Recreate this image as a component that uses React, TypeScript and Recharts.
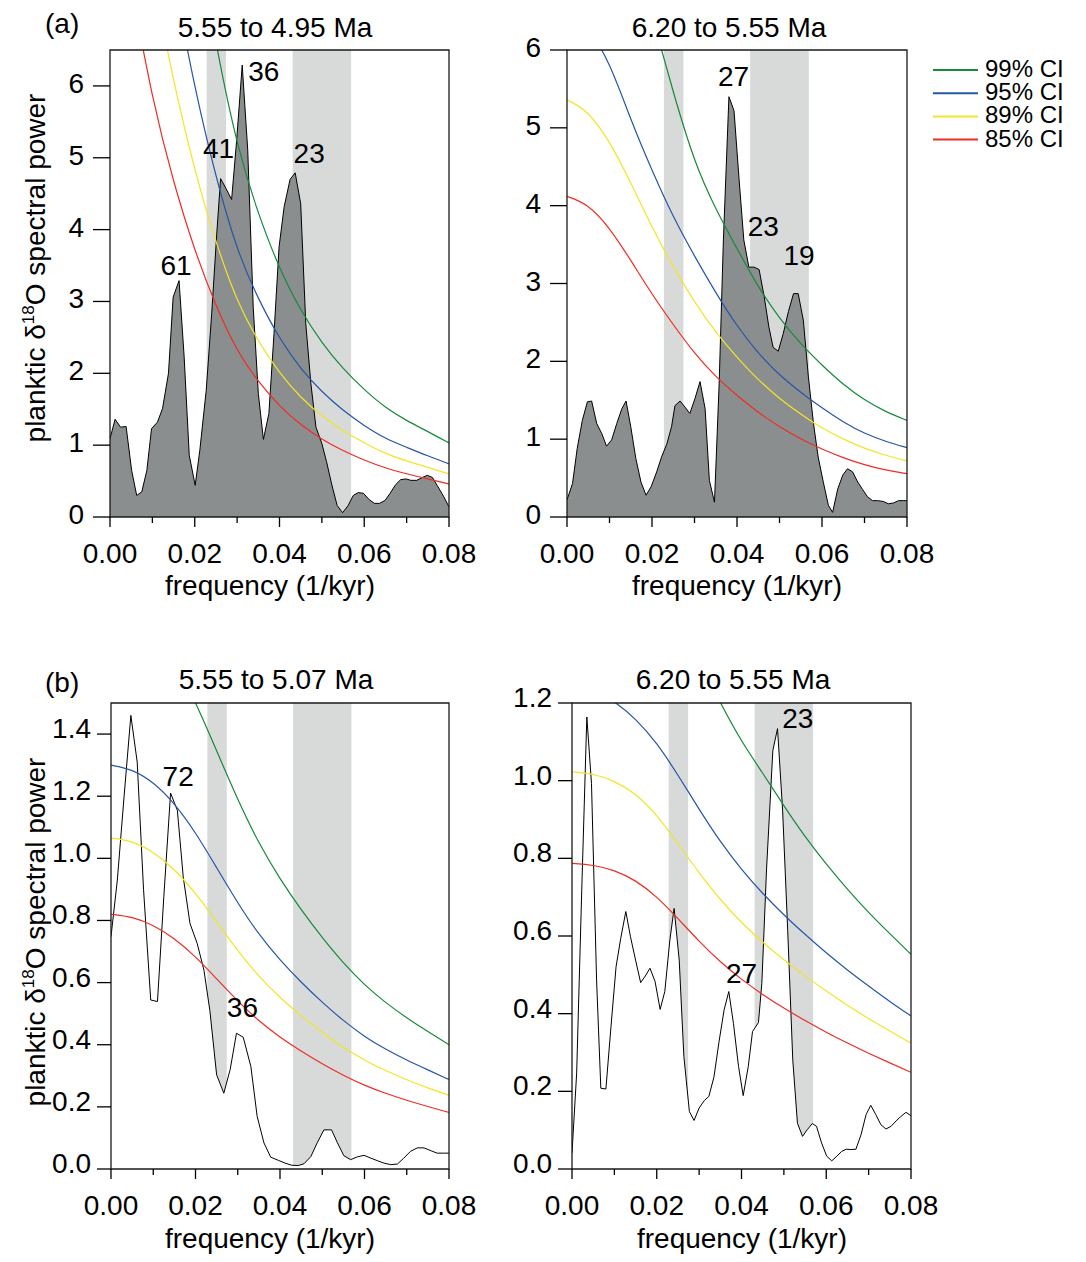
import React from 'react';
import { ComposedChart, Area, Line, XAxis, YAxis, ReferenceArea, ReferenceDot } from 'recharts';

const FONT = '"Liberation Sans", Arial, Helvetica, sans-serif';
const C99 = '#17893c';
const C95 = '#2656a8';
const C89 = '#f2e526';
const C85 = '#ee2d24';
const BAND = '#d8dada';
const SPEC_FILL = '#8b8e8e';

// frequency ticks (1/kyr)
const freqTicks = [0, 0.01, 0.02, 0.03, 0.04, 0.05, 0.06, 0.07, 0.08];
// orbital bands (obliquity, precession)
const bandObliquity = [0.0228, 0.0274];
const bandPrecession = [0.0431, 0.0569];

// grid on which the confidence curves were read
const ciFreq = [0, 0.005, 0.01, 0.015, 0.02, 0.025, 0.03, 0.035, 0.04, 0.045, 0.05, 0.055, 0.06, 0.065, 0.07, 0.075, 0.08];

// ---------- (a) 5.55 to 4.95 Ma ----------
const a1Freq = [0, 0.0012, 0.0025, 0.0038, 0.0051, 0.0063, 0.0075, 0.0087, 0.0098, 0.0112, 0.0124, 0.0138, 0.0149, 0.0163, 0.0175, 0.0187, 0.0201, 0.0212, 0.0227, 0.024, 0.0252, 0.0261, 0.0274, 0.0287, 0.0299, 0.0312, 0.0325, 0.0338, 0.035, 0.0362, 0.0375, 0.0387, 0.0399, 0.0411, 0.0425, 0.0437, 0.045, 0.0462, 0.0474, 0.0486, 0.05, 0.0511, 0.0523, 0.0536, 0.0549, 0.0562, 0.0574, 0.0586, 0.0598, 0.0612, 0.0624, 0.0636, 0.0649, 0.0661, 0.0674, 0.0686, 0.0699, 0.071, 0.0724, 0.0737, 0.0749, 0.0761, 0.0772, 0.0787, 0.08];
const a1Power = [1.09, 1.36, 1.25, 1.26, 0.65, 0.3, 0.35, 0.65, 1.23, 1.32, 1.51, 2.0, 3.06, 3.29, 2.23, 0.86, 0.44, 0.93, 1.76, 2.83, 3.95, 4.71, 4.57, 4.42, 5.25, 6.29, 5.11, 2.92, 1.72, 1.08, 1.44, 2.55, 3.76, 4.32, 4.7, 4.79, 4.36, 2.69, 1.86, 1.25, 1.02, 0.77, 0.46, 0.16, 0.06, 0.16, 0.3, 0.34, 0.33, 0.24, 0.19, 0.19, 0.23, 0.33, 0.45, 0.52, 0.53, 0.51, 0.51, 0.55, 0.58, 0.55, 0.44, 0.29, 0.14];
const a1Ci85 = [8.6, 7.4, 5.8, 4.65, 3.7, 2.93, 2.3, 1.88, 1.54, 1.28, 1.08, 0.92, 0.79, 0.68, 0.6, 0.53, 0.46];
const a1Ci89 = [11.2, 9.6, 7.54, 6.05, 4.81, 3.81, 2.99, 2.44, 2.0, 1.66, 1.4, 1.2, 1.03, 0.88, 0.78, 0.69, 0.6];
const a1Ci95 = [13.8, 11.9, 9.34, 7.49, 5.96, 4.72, 3.7, 3.03, 2.48, 2.06, 1.74, 1.48, 1.27, 1.09, 0.97, 0.85, 0.74];
const a1Ci99 = [19.3, 16.6, 13.0, 10.4, 8.29, 6.56, 5.15, 4.21, 3.45, 2.87, 2.42, 2.06, 1.77, 1.52, 1.34, 1.19, 1.03];
const a1Peaks = [
  { text: '36', f: 0.0363, v: 6.2 },
  { text: '41', f: 0.0256, v: 5.14 },
  { text: '61', f: 0.0156, v: 3.51 },
  { text: '23', f: 0.047, v: 5.07 },
];

// ---------- (a) 6.20 to 5.55 Ma ----------
const a2Freq = [0, 0.0013, 0.0024, 0.0036, 0.0048, 0.0058, 0.007, 0.0082, 0.0093, 0.0105, 0.0117, 0.0129, 0.0139, 0.015, 0.0162, 0.0174, 0.0186, 0.0198, 0.0211, 0.0223, 0.0235, 0.0246, 0.0254, 0.0266, 0.0278, 0.0289, 0.0301, 0.0313, 0.0325, 0.0335, 0.0347, 0.0358, 0.0368, 0.0381, 0.0393, 0.0405, 0.0416, 0.0428, 0.044, 0.0452, 0.0464, 0.0475, 0.0485, 0.0497, 0.0509, 0.0521, 0.0533, 0.0544, 0.0556, 0.0568, 0.058, 0.0591, 0.0603, 0.0615, 0.0625, 0.0637, 0.0649, 0.066, 0.0672, 0.0684, 0.0696, 0.0707, 0.0719, 0.0731, 0.0744, 0.0756, 0.0768, 0.078, 0.0791, 0.08];
const a2Power = [0.22, 0.43, 0.88, 1.24, 1.48, 1.49, 1.2, 1.07, 0.91, 0.99, 1.2, 1.39, 1.49, 1.16, 0.75, 0.45, 0.28, 0.39, 0.58, 0.78, 0.94, 1.16, 1.43, 1.49, 1.41, 1.33, 1.52, 1.74, 1.39, 0.47, 0.19, 1.71, 3.56, 5.4, 5.22, 4.33, 3.56, 3.21, 3.21, 3.18, 2.83, 2.44, 2.18, 2.13, 2.36, 2.64, 2.87, 2.87, 2.53, 1.8, 1.2, 0.77, 0.45, 0.15, 0.06, 0.36, 0.54, 0.62, 0.58, 0.45, 0.35, 0.26, 0.21, 0.21, 0.2, 0.17, 0.18, 0.21, 0.21, 0.21];
const a2Ci85 = [4.12, 4.02, 3.72, 3.3, 2.86, 2.47, 2.1, 1.8, 1.56, 1.34, 1.16, 1.0, 0.87, 0.76, 0.67, 0.6, 0.557];
const a2Ci89 = [5.36, 5.22, 4.83, 4.3, 3.72, 3.21, 2.76, 2.37, 2.05, 1.76, 1.52, 1.32, 1.14, 1.0, 0.88, 0.79, 0.72];
const a2Ci95 = [6.45, 6.3, 5.85, 5.1, 4.45, 3.85, 3.35, 2.88, 2.45, 2.1, 1.82, 1.6, 1.4, 1.22, 1.07, 0.97, 0.89];
const a2Ci99 = [9.1, 8.9, 8.3, 7.4, 6.45, 5.45, 4.55, 3.95, 3.45, 2.95, 2.55, 2.22, 1.95, 1.7, 1.5, 1.35, 1.24];
const a2Peaks = [
  { text: '27', f: 0.0392, v: 5.66 },
  { text: '23', f: 0.0462, v: 3.74 },
  { text: '19', f: 0.0546, v: 3.36 },
];

// ---------- (b) 5.55 to 5.07 Ma ----------
const b1Freq = [0, 0.0015, 0.0031, 0.0047, 0.0062, 0.0077, 0.0094, 0.011, 0.0125, 0.0141, 0.0157, 0.0171, 0.0187, 0.0204, 0.022, 0.0234, 0.025, 0.0267, 0.0282, 0.0297, 0.0313, 0.0331, 0.0346, 0.0362, 0.0378, 0.0396, 0.0412, 0.0428, 0.0443, 0.0457, 0.0473, 0.0488, 0.0504, 0.0522, 0.0536, 0.0551, 0.0567, 0.0583, 0.0599, 0.0615, 0.063, 0.0646, 0.0662, 0.0678, 0.0693, 0.0709, 0.0725, 0.0741, 0.0757, 0.0772, 0.0787, 0.08];
const b1Power = [0.748, 0.93, 1.2, 1.46, 1.31, 0.9, 0.544, 0.539, 0.876, 1.21, 1.155, 0.94, 0.79, 0.726, 0.64, 0.51, 0.303, 0.244, 0.32, 0.437, 0.424, 0.33, 0.169, 0.084, 0.038, 0.028, 0.019, 0.012, 0.011, 0.017, 0.04, 0.084, 0.126, 0.126, 0.084, 0.043, 0.03, 0.039, 0.044, 0.035, 0.027, 0.019, 0.014, 0.016, 0.035, 0.057, 0.068, 0.068, 0.059, 0.051, 0.051, 0.051];
const b1Ci85 = [0.82, 0.812, 0.786, 0.743, 0.684, 0.612, 0.54, 0.476, 0.424, 0.379, 0.338, 0.301, 0.269, 0.243, 0.221, 0.201, 0.182];
const b1Ci89 = [1.066, 1.056, 1.022, 0.966, 0.889, 0.796, 0.702, 0.619, 0.551, 0.493, 0.439, 0.391, 0.35, 0.316, 0.287, 0.261, 0.237];
const b1Ci95 = [1.3, 1.287, 1.246, 1.178, 1.084, 0.97, 0.856, 0.754, 0.672, 0.601, 0.536, 0.477, 0.426, 0.385, 0.35, 0.319, 0.288];
const b1Ci99 = [1.8, 1.786, 1.73, 1.635, 1.505, 1.346, 1.188, 1.047, 0.933, 0.834, 0.744, 0.662, 0.592, 0.535, 0.486, 0.442, 0.4];
const b1Peaks = [
  { text: '72', f: 0.0159, v: 1.265 },
  { text: '36', f: 0.0311, v: 0.52 },
];

// ---------- (b) 6.20 to 5.55 Ma ----------
const b2Freq = [0, 0.0011, 0.0023, 0.0035, 0.0046, 0.0058, 0.0068, 0.008, 0.0092, 0.0104, 0.0115, 0.0127, 0.0138, 0.015, 0.0162, 0.0173, 0.0184, 0.0196, 0.0208, 0.0219, 0.0231, 0.0241, 0.0253, 0.0264, 0.0277, 0.0288, 0.03, 0.0312, 0.0323, 0.0335, 0.0347, 0.0359, 0.037, 0.0381, 0.0393, 0.0404, 0.0416, 0.0426, 0.044, 0.0448, 0.0459, 0.0474, 0.0485, 0.0497, 0.0509, 0.0521, 0.0532, 0.0544, 0.0555, 0.0567, 0.0577, 0.0589, 0.0601, 0.0613, 0.0625, 0.0636, 0.0647, 0.0658, 0.067, 0.0682, 0.0694, 0.0705, 0.0717, 0.0729, 0.0741, 0.0753, 0.0765, 0.0776, 0.0788, 0.08];
const b2Power = [0.041, 0.247, 0.718, 1.164, 0.993, 0.487, 0.208, 0.206, 0.367, 0.521, 0.594, 0.663, 0.598, 0.538, 0.48, 0.497, 0.517, 0.483, 0.411, 0.457, 0.59, 0.671, 0.538, 0.29, 0.148, 0.125, 0.157, 0.176, 0.187, 0.237, 0.328, 0.41, 0.457, 0.375, 0.264, 0.189, 0.264, 0.354, 0.377, 0.478, 0.77, 1.078, 1.134, 0.924, 0.615, 0.281, 0.118, 0.084, 0.101, 0.117, 0.11, 0.067, 0.033, 0.021, 0.033, 0.045, 0.051, 0.05, 0.051, 0.088, 0.14, 0.164, 0.14, 0.114, 0.103, 0.11, 0.124, 0.135, 0.146, 0.137];
const b2Ci85 = [0.787, 0.783, 0.77, 0.744, 0.702, 0.645, 0.586, 0.533, 0.488, 0.449, 0.414, 0.382, 0.352, 0.324, 0.298, 0.273, 0.249];
const b2Ci89 = [1.023, 1.018, 1.0, 0.967, 0.913, 0.838, 0.762, 0.693, 0.634, 0.584, 0.538, 0.497, 0.458, 0.421, 0.387, 0.355, 0.324];
const b2Ci95 = [1.243, 1.235, 1.205, 1.16, 1.098, 1.015, 0.926, 0.842, 0.771, 0.709, 0.654, 0.604, 0.556, 0.512, 0.471, 0.431, 0.394];
const b2Ci99 = [1.747, 1.74, 1.71, 1.656, 1.56, 1.43, 1.31, 1.2, 1.1, 1.02, 0.935, 0.855, 0.785, 0.72, 0.66, 0.606, 0.553];
const b2Peaks = [
  { text: '23', f: 0.0533, v: 1.16 },
  { text: '27', f: 0.04, v: 0.505 },
];

const yTicksA = [0, 1, 2, 3, 4, 5, 6];
const yTicksB1 = [0, 0.2, 0.4, 0.6, 0.8, 1.0, 1.2, 1.4];
const yTicksB2 = [0, 0.2, 0.4, 0.6, 0.8, 1.0, 1.2];

const legendItems = [
  { label: '99% CI', color: C99 },
  { label: '95% CI', color: C95 },
  { label: '89% CI', color: C89 },
  { label: '85% CI', color: C85 },
];

type Peak = { text: string; f: number; v: number };
type PanelProps = {
  x: number; y: number; w: number; h: number;
  freq: number[]; power: number[];
  ci85: number[]; ci89: number[]; ci95: number[]; ci99: number[];
  yMax: number; yTicks: number[]; decimals: number;
  tickLen: number; labelGap: number; labelDy: number;
  peaks: Peak[]; filled: boolean;
};

const ML = 100;
const MT = 30;
const MR = 45;
const XH = 60;

function XTick(props: any) {
  const { x, y, payload } = props;
  const v = payload.value as number;
  const major = Math.abs(v * 50 - Math.round(v * 50)) < 1e-6;
  return (
    <g>
      <line x1={x} x2={x} y1={y} y2={y + (major ? 10 : 6)} stroke="#000" strokeWidth={1.3} />
      {major && (
        <text x={x} y={y + 46} textAnchor="middle" fontSize={28} fontFamily={FONT} fill="#000">
          {v.toFixed(2)}
        </text>
      )}
    </g>
  );
}

function makeYTick(decimals: number, tickLen: number, labelGap: number, labelDy: number) {
  return (props: any) => {
    const { x, y, payload } = props;
    const v = payload.value as number;
    return (
      <g>
        <line x1={x - tickLen} x2={x} y1={y} y2={y} stroke="#000" strokeWidth={1.3} />
        <text x={x - tickLen - labelGap} y={y + labelDy} textAnchor="end" fontSize={28} fontFamily={FONT} fill="#000">
          {v.toFixed(decimals)}
        </text>
      </g>
    );
  };
}

function Panel(p: PanelProps) {
  const width = ML + p.w + MR;
  const height = MT + p.h + XH;
  const specData = p.freq.map((f, i) => ({ f, p: p.power[i] }));
  const ciData = ciFreq.map((f, i) => ({ f, r: p.ci85[i], yl: p.ci89[i], b: p.ci95[i], g: p.ci99[i] }));
  return (
    <div style={{ position: 'absolute', left: p.x - ML, top: p.y - MT, width, height }}>
      <ComposedChart width={width} height={height} margin={{ top: MT, right: MR, left: 0, bottom: 0 }}>
        <XAxis
          type="number"
          dataKey="f"
          domain={[0, 0.08]}
          ticks={freqTicks}
          interval={0}
          tickSize={0}
          tickMargin={0}
          axisLine={false}
          tickLine={false}
          height={XH}
          allowDataOverflow
          tick={XTick}
        />
        <YAxis
          type="number"
          domain={[0, p.yMax]}
          ticks={p.yTicks}
          interval={0}
          width={ML}
          tickSize={0}
          tickMargin={0}
          axisLine={false}
          tickLine={false}
          allowDataOverflow
          tick={makeYTick(p.decimals, p.tickLen, p.labelGap, p.labelDy)}
        />
        <ReferenceArea x1={bandObliquity[0]} x2={bandObliquity[1]} y1={0} y2={p.yMax} fill={BAND} fillOpacity={1} stroke="none" zIndex={50} />
        <ReferenceArea x1={bandPrecession[0]} x2={bandPrecession[1]} y1={0} y2={p.yMax} fill={BAND} fillOpacity={1} stroke="none" zIndex={50} />
        <Area
          data={specData}
          dataKey="p"
          type="linear"
          fill={p.filled ? SPEC_FILL : '#ffffff'}
          fillOpacity={1}
          stroke="#000"
          strokeWidth={1}
          dot={false}
          activeDot={false}
          isAnimationActive={false}
          zIndex={100}
        />
        <Line data={ciData} dataKey="g" type="basis" stroke={C99} strokeWidth={1.2} dot={false} activeDot={false} isAnimationActive={false} zIndex={400} />
        <Line data={ciData} dataKey="b" type="basis" stroke={C95} strokeWidth={1.2} dot={false} activeDot={false} isAnimationActive={false} zIndex={400} />
        <Line data={ciData} dataKey="yl" type="basis" stroke={C89} strokeWidth={1.2} dot={false} activeDot={false} isAnimationActive={false} zIndex={400} />
        <Line data={ciData} dataKey="r" type="basis" stroke={C85} strokeWidth={1.2} dot={false} activeDot={false} isAnimationActive={false} zIndex={400} />
        <ReferenceArea x1={0} x2={0.08} y1={0} y2={p.yMax} fill="none" fillOpacity={0} stroke="#1a1a1a" strokeWidth={1.3} zIndex={450} />
        {p.peaks.map((pk) => (
          <ReferenceDot
            key={pk.text + pk.f}
            x={pk.f}
            y={pk.v}
            r={0}
            fill="none"
            stroke="none"
            zIndex={2000}
            label={{ value: pk.text, position: 'center', fontSize: 28, fill: '#000', fontFamily: FONT }}
          />
        ))}
      </ComposedChart>
    </div>
  );
}

function YTitle({ cx, cy }: { cx: number; cy: number }) {
  return (
    <text x={cx} y={cy} transform={`rotate(-90 ${cx} ${cy})`} textAnchor="middle" fontSize={28} fill="#000">
      planktic δ
      <tspan fontSize={17} dy={-11}>18</tspan>
      <tspan dy={11}>O spectral power</tspan>
    </text>
  );
}

export default function App() {
  return (
    <div style={{ position: 'absolute', left: 0, top: 0, width: 1086, height: 1262, background: '#fff', fontFamily: FONT }}>
      <Panel x={110} y={50} w={339} h={467} freq={a1Freq} power={a1Power} ci85={a1Ci85} ci89={a1Ci89} ci95={a1Ci95} ci99={a1Ci99} yMax={6.5} yTicks={yTicksA} decimals={0} tickLen={17} labelGap={9} labelDy={7} peaks={a1Peaks} filled />
      <Panel x={567} y={50} w={340} h={467} freq={a2Freq} power={a2Power} ci85={a2Ci85} ci89={a2Ci89} ci95={a2Ci95} ci99={a2Ci99} yMax={6} yTicks={yTicksA} decimals={0} tickLen={17} labelGap={9} labelDy={7} peaks={a2Peaks} filled />
      <Panel x={111} y={703} w={338} h={466} freq={b1Freq} power={b1Power} ci85={b1Ci85} ci89={b1Ci89} ci95={b1Ci95} ci99={b1Ci99} yMax={1.5} yTicks={yTicksB1} decimals={1} tickLen={14} labelGap={6} labelDy={4} peaks={b1Peaks} filled={false} />
      <Panel x={572} y={703} w={339} h={466} freq={b2Freq} power={b2Power} ci85={b2Ci85} ci89={b2Ci89} ci95={b2Ci95} ci99={b2Ci99} yMax={1.2} yTicks={yTicksB2} decimals={1} tickLen={14} labelGap={6} labelDy={4} peaks={b2Peaks} filled={false} />
      <svg width={1086} height={1262} style={{ position: 'absolute', left: 0, top: 0, pointerEvents: 'none' }} fontFamily={FONT}>
        <text x={45} y={33} fontSize={28} fill="#000">(a)</text>
        <text x={275} y={37} textAnchor="middle" fontSize={28} fill="#000">5.55 to 4.95 Ma</text>
        <text x={729} y={37} textAnchor="middle" fontSize={28} fill="#000">6.20 to 5.55 Ma</text>
        <text x={45} y={692} fontSize={28} fill="#000">(b)</text>
        <text x={276} y={689} textAnchor="middle" fontSize={28} fill="#000">5.55 to 5.07 Ma</text>
        <text x={733} y={689} textAnchor="middle" fontSize={28} fill="#000">6.20 to 5.55 Ma</text>
        <text x={270} y={595} textAnchor="middle" fontSize={28} fill="#000">frequency (1/kyr)</text>
        <text x={737} y={595} textAnchor="middle" fontSize={28} fill="#000">frequency (1/kyr)</text>
        <text x={270} y={1248} textAnchor="middle" fontSize={28} fill="#000">frequency (1/kyr)</text>
        <text x={742} y={1248} textAnchor="middle" fontSize={28} fill="#000">frequency (1/kyr)</text>
        <YTitle cx={45} cy={268} />
        <YTitle cx={45} cy={932} />
        {legendItems.map((it, i) => {
          const ly = 70 + i * 23.2;
          return (
            <g key={it.label}>
              <line x1={933} x2={978} y1={ly} y2={ly} stroke={it.color} strokeWidth={2} />
              <text x={985} y={ly + 7} fontSize={24} fill="#000">{it.label}</text>
            </g>
          );
        })}
      </svg>
    </div>
  );
}
